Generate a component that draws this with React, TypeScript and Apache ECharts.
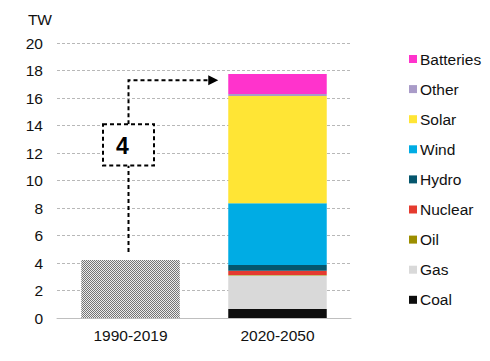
import React, { useEffect, useRef } from "react";
import * as echarts from "echarts";

const categories = ["1990-2019", "2020-2050"];
const historical = [4.22, null];
const seriesNames = ["Coal", "Gas", "Oil", "Nuclear", "Hydro", "Wind", "Solar", "Other", "Batteries"];
const seriesValues = [
  [null, 0.65],
  [null, 2.45],
  [null, 0.03],
  [null, 0.31],
  [null, 0.41],
  [null, 4.5],
  [null, 7.8],
  [null, 0.15],
  [null, 1.45],
];
const seriesColors = ["#0d0d0d", "#d9d9d9", "#9c8e00", "#e53b2f", "#05566d", "#00ace4", "#ffe535", "#a99bc8", "#ff33cc"];
const yTicks = { min: 0, max: 20, interval: 2 };
const multiplierLabel = "4";
const arrowFrom = 4.8;
const boxBottom = 11.1;
const boxTop = 14.1;
const arrowLevel = 17.3;

function makePattern(): HTMLCanvasElement {
  const c = document.createElement("canvas");
  c.width = 2;
  c.height = 2;
  const ctx = c.getContext("2d")!;
  ctx.fillStyle = "#ececec";
  ctx.fillRect(0, 0, 2, 2);
  ctx.fillStyle = "#757575";
  ctx.fillRect(0, 0, 1, 1);
  ctx.fillRect(1, 1, 1, 1);
  return c;
}

export default function App() {
  const ref = useRef<HTMLDivElement>(null);
  useEffect(() => {
    const chart = echarts.init(ref.current!, undefined, { renderer: "svg" });
    const font = "'Liberation Sans', Arial, sans-serif";
    const fs = 15.5;
    const option: any = {
      animation: false,
      textStyle: { fontFamily: font },
      grid: { left: 57, right: 139, top: 43, bottom: 43 },
      legend: {
        orient: "vertical",
        left: 404,
        top: 46,
        icon: "rect",
        itemWidth: 8,
        itemHeight: 8,
        itemGap: 14.1,
        data: [...seriesNames].reverse(),
        textStyle: { fontSize: fs, color: "#111", fontFamily: font, padding: [0, 0, 0, -2] },
        selectedMode: false,
      },
      xAxis: {
        type: "category",
        data: categories,
        axisLine: { lineStyle: { color: "#bfbfbf" } },
        axisTick: { lineStyle: { color: "#bfbfbf" }, length: 5 },
        axisLabel: { fontSize: fs, color: "#111", margin: 9 },
      },
      yAxis: {
        type: "value",
        min: yTicks.min,
        max: yTicks.max,
        interval: yTicks.interval,
        name: "TW",
        nameLocation: "end",
        nameGap: 16,
        nameTextStyle: { fontSize: fs, color: "#111", align: "right", padding: [0, 5, 0, 0] },
        axisLine: { show: false },
        axisTick: { show: false },
        axisLabel: { fontSize: fs, color: "#111", margin: 14 },
        splitLine: { lineStyle: { color: "#b8b8b8", type: [3, 2], width: 1 } },
      },
      series: [
        {
          name: "Historical",
          type: "bar",
          stack: "total",
          barWidth: "67%",
          data: historical,
          itemStyle: { color: { image: makePattern(), repeat: "repeat" } },
        },
        ...seriesNames.map((n, i) => ({
          name: n,
          type: "bar",
          stack: "total",
          barWidth: "67%",
          data: seriesValues[i],
          itemStyle: { color: seriesColors[i] },
        })),
      ],
    };
    chart.setOption(option);

    const px = (cat: string, v: number) => chart.convertToPixel({ gridIndex: 0 }, [cat, v]) as number[];
    const a0 = px(categories[0], arrowFrom);
    const b0 = px(categories[0], boxBottom);
    const b1 = px(categories[0], boxTop);
    const top = px(categories[0], arrowLevel);
    const c1 = px(categories[1], arrowLevel);
    const catW = c1[0] - top[0];
    const tipX = c1[0] - catW * 0.335 - 10;
    const x0 = top[0] - 2;
    const dash = { stroke: "#000", lineWidth: 2, lineDash: [4, 3] };
    chart.setOption({
      graphic: [
        { type: "line", shape: { x1: x0, y1: a0[1], x2: x0, y2: b0[1] }, style: dash },
        { type: "polyline", shape: { points: [[x0, b1[1]], [x0, top[1]], [tipX - 9, top[1]]] }, style: { ...dash, fill: null } },
        { type: "polygon", shape: { points: [[tipX - 10, top[1] - 5], [tipX, top[1]], [tipX - 10, top[1] + 5]] }, style: { fill: "#000" } },
        {
          type: "rect",
          shape: { x: x0 - 25.5, y: b1[1], width: 51, height: b0[1] - b1[1] },
          style: { ...dash, fill: "#fff" },
        },
        {
          type: "text",
          x: x0 - 6,
          y: (b0[1] + b1[1]) / 2 + 1,
          style: { text: multiplierLabel, fontSize: 23, fontWeight: "bold", fill: "#000", fontFamily: font, align: "center", verticalAlign: "middle" },
        },
      ],
    });
    return () => chart.dispose();
  }, []);
  return <div ref={ref} style={{ width: 490, height: 361, position: "absolute", left: 0, top: 0 }} />;
}
